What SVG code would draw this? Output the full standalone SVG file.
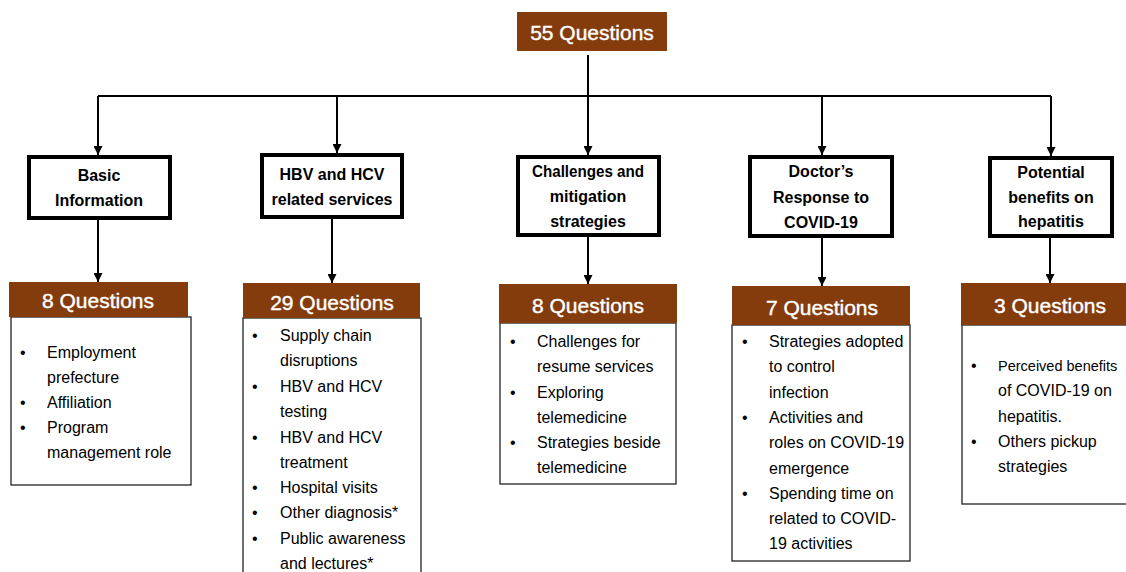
<svg xmlns="http://www.w3.org/2000/svg" width="1126" height="572" viewBox="0 0 1126 572">
<defs>
<marker id="arr" viewBox="0 0 10 10" refX="10" refY="5" markerWidth="4.5" markerHeight="4.5" orient="auto" markerUnits="strokeWidth">
<path d="M0,0 L10,5 L0,10 z" fill="#000"/>
</marker>
<style>
.q{fill:#843C0C;}
.qt{font-family:"Liberation Sans",Arial,sans-serif;font-size:21px;fill:#fff;text-anchor:middle;stroke:#fff;stroke-width:0.4;}
.hb{fill:#fff;stroke:#000;stroke-width:4;}
.ht{font-family:"Liberation Sans",Arial,sans-serif;font-size:16px;font-weight:bold;fill:#000;text-anchor:middle;}
.cb{fill:#fff;stroke:#222;stroke-width:1.3;}
.bt{font-family:"Liberation Sans",Arial,sans-serif;font-size:16px;fill:#000;}
.c{fill:none;stroke:#000;stroke-width:2;}
</style>
</defs>
<rect width="1126" height="572" fill="#fff"/>

<g id="connectors">
<path class="c" d="M588,55 V96 M98,96 H1051"/>
<path class="c" d="M98,96 V155" marker-end="url(#arr)"/>
<path class="c" d="M337,96 V153" marker-end="url(#arr)"/>
<path class="c" d="M588,96 V155" marker-end="url(#arr)"/>
<path class="c" d="M822,96 V155" marker-end="url(#arr)"/>
<path class="c" d="M1051,96 V156" marker-end="url(#arr)"/>
<path class="c" d="M98,220 V282" marker-end="url(#arr)"/>
<path class="c" d="M332,219 V283" marker-end="url(#arr)"/>
<path class="c" d="M588,237 V284" marker-end="url(#arr)"/>
<path class="c" d="M822,238 V286" marker-end="url(#arr)"/>
<path class="c" d="M1050,238 V283" marker-end="url(#arr)"/>
</g>

<g id="root">
<rect class="q" x="517" y="12" width="150" height="39"/>
<text class="qt" x="592" y="40">55 Questions</text>
</g>

<g id="h1">
<rect class="hb" x="29" y="157" width="141" height="61"/>
<text class="ht" x="99" y="181">Basic</text>
<text class="ht" x="99" y="206">Information</text>
</g>
<g id="h2">
<rect class="hb" x="262" y="155" width="140" height="62"/>
<text class="ht" x="332" y="180">HBV and HCV</text>
<text class="ht" x="332" y="205">related services</text>
</g>
<g id="h3">
<rect class="hb" x="518" y="157" width="141" height="78"/>
<text class="ht" x="588" y="177" textLength="112" lengthAdjust="spacingAndGlyphs">Challenges and</text>
<text class="ht" x="588" y="202">mitigation</text>
<text class="ht" x="588" y="227">strategies</text>
</g>
<g id="h4">
<rect class="hb" x="750" y="157" width="142" height="79"/>
<text class="ht" x="821" y="177">Doctor’s</text>
<text class="ht" x="821" y="203">Response to</text>
<text class="ht" x="821" y="228">COVID-19</text>
</g>
<g id="h5">
<rect class="hb" x="990" y="158" width="122" height="78"/>
<text class="ht" x="1051" y="178">Potential</text>
<text class="ht" x="1051" y="203">benefits on</text>
<text class="ht" x="1051" y="227">hepatitis</text>
</g>

<g id="q1">
<rect class="cb" x="11" y="317" width="180" height="168"/>
<rect class="q" x="9" y="282" width="179" height="35"/>
<text class="qt" x="98" y="308">8 Questions</text>
<g class="bt">
<text x="20" y="358">•</text><text x="47" y="358">Employment</text>
<text x="47" y="383">prefecture</text>
<text x="20" y="408">•</text><text x="47" y="408">Affiliation</text>
<text x="20" y="433">•</text><text x="47" y="433">Program</text>
<text x="47" y="458">management role</text>
</g>
</g>

<g id="q2">
<rect class="cb" x="243" y="318" width="178" height="260"/>
<rect class="q" x="243" y="283" width="177" height="35"/>
<text class="qt" x="332" y="310">29 Questions</text>
<g class="bt">
<text x="252" y="341">•</text><text x="280" y="341">Supply chain</text>
<text x="280" y="366">disruptions</text>
<text x="252" y="392">•</text><text x="280" y="392">HBV and HCV</text>
<text x="280" y="417">testing</text>
<text x="252" y="443">•</text><text x="280" y="443">HBV and HCV</text>
<text x="280" y="468">treatment</text>
<text x="252" y="493">•</text><text x="280" y="493">Hospital visits</text>
<text x="252" y="518">•</text><text x="280" y="518">Other diagnosis*</text>
<text x="252" y="544">•</text><text x="280" y="544">Public awareness</text>
<text x="280" y="569">and lectures*</text>
</g>
</g>

<g id="q3">
<rect class="cb" x="500" y="323" width="176" height="161"/>
<rect class="q" x="499" y="284" width="178" height="39"/>
<text class="qt" x="588" y="313">8 Questions</text>
<g class="bt">
<text x="510" y="347">•</text><text x="537" y="347">Challenges for</text>
<text x="537" y="372">resume services</text>
<text x="510" y="398">•</text><text x="537" y="398">Exploring</text>
<text x="537" y="423">telemedicine</text>
<text x="510" y="448">•</text><text x="537" y="448">Strategies beside</text>
<text x="537" y="473">telemedicine</text>
</g>
</g>

<g id="q4">
<rect class="cb" x="732" y="325" width="178" height="236"/>
<rect class="q" x="732" y="286" width="178" height="39"/>
<text class="qt" x="822" y="315">7 Questions</text>
<g class="bt">
<text x="742" y="347">•</text><text x="769" y="347">Strategies adopted</text>
<text x="769" y="372">to control</text>
<text x="769" y="398">infection</text>
<text x="742" y="423">•</text><text x="769" y="423">Activities and</text>
<text x="769" y="448">roles on COVID-19</text>
<text x="769" y="474">emergence</text>
<text x="742" y="499">•</text><text x="769" y="499">Spending time on</text>
<text x="769" y="524">related to COVID-</text>
<text x="769" y="549">19 activities</text>
</g>
</g>

<g id="q5">
<rect class="cb" x="962" y="325" width="170" height="179"/>
<rect class="q" x="961" y="283" width="170" height="42"/>
<text class="qt" x="1050" y="313">3 Questions</text>
<g class="bt">
<text x="971" y="371">•</text><text x="998" y="371" style="font-size:14.5px">Perceived benefits</text>
<text x="998" y="396">of COVID-19 on</text>
<text x="998" y="422">hepatitis.</text>
<text x="971" y="447">•</text><text x="998" y="447">Others pickup</text>
<text x="998" y="472">strategies</text>
</g>
</g>
</svg>
